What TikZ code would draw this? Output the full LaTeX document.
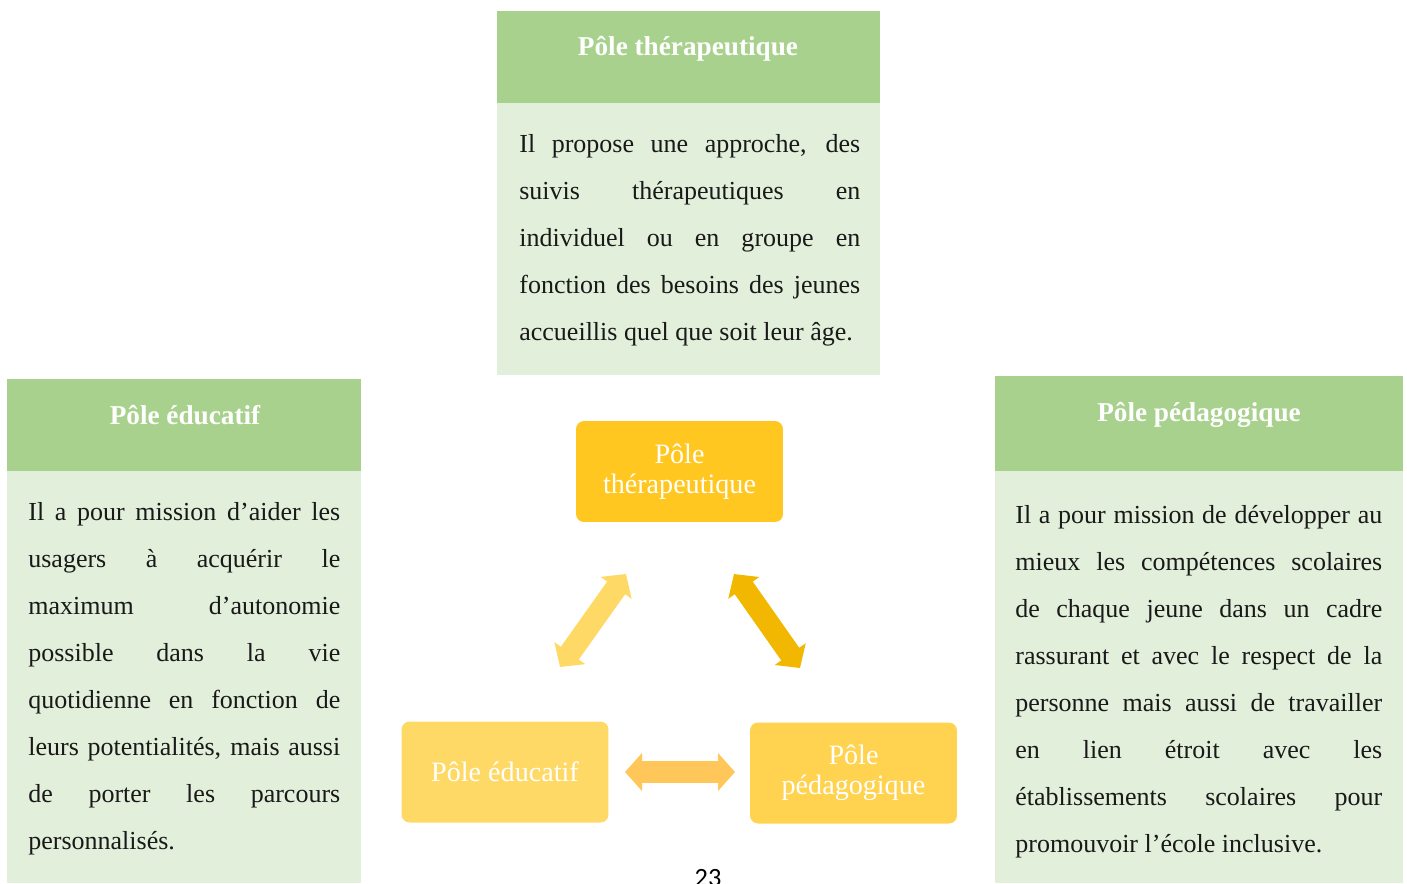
\documentclass[tikz,border=0pt]{standalone}
\usepackage{fontspec}
\setmainfont{Liberation Serif}
\newfontfamily\pagefont{Carlito}
\usepackage{xcolor}
\usetikzlibrary{arrows.meta}

\hyphenpenalty=10000
\exhyphenpenalty=10000
\setlength{\parindent}{0pt}

\definecolor{headgreen}{HTML}{A9D18E}
\definecolor{bodygreen}{HTML}{E2EFDA}
\definecolor{poleT}{HTML}{FFC71F}
\definecolor{poleE}{HTML}{FFD966}
\definecolor{poleP}{HTML}{FFD34F}
\definecolor{arrowL}{HTML}{FFD966}
\definecolor{arrowR}{HTML}{F2B700}
\definecolor{arrowH}{HTML}{FFC65A}

\begin{document}
\begin{tikzpicture}[x=0.02cm, y=-0.02cm,
    title/.style={text=white, font=\fontsize{15.5}{18}\selectfont\bfseries},
    body/.style={anchor=north west, inner sep=0pt, align=justify, text=black!90,
        font=\fontsize{14.8}{26.75}\selectfont},
    pole/.style={rounded corners=0.16cm, minimum width=4.14cm, minimum height=2.02cm,
        text=white, align=center, font=\fontsize{16}{17}\selectfont},
    dbl/.style={line width=0.44cm,
        {Triangle[width=0.74cm,length=0.34cm]}-{Triangle[width=0.74cm,length=0.34cm]}}]

    \useasboundingbox (0,0) rectangle (1407,883);

    % panels
    \fill[headgreen] (497,11) rectangle (880,103);
    \fill[bodygreen] (497,103) rectangle (880,375);
    \fill[headgreen] (7,379) rectangle (361,471);
    \fill[bodygreen] (7,471) rectangle (361,883);
    \fill[headgreen] (995,376) rectangle (1403,471);
    \fill[bodygreen] (995,471) rectangle (1403,883);

    \node[title] (tthera) at (688,49) {Pôle thérapeutique};
    \node[title] (tedu) at (185,415) {Pôle éducatif};
    \node[title] (tpeda) at (1199,415) {Pôle pédagogique};

    \node[body, text width=6.82cm] (xthera) at (519,134) {Il propose une approche, des\linebreak
        suivis thérapeutiques en\linebreak
        individuel ou en groupe en\linebreak
        fonction des besoins des jeunes\linebreak
        accueillis quel que soit leur âge.};
    \node[body, text width=6.24cm] (xedu) at (28,502) {Il a pour mission d’aider les\linebreak
        usagers à acquérir le\linebreak
        maximum d’autonomie\linebreak
        possible dans la vie\linebreak
        quotidienne en fonction de\linebreak
        leurs potentialités, mais aussi\linebreak
        de porter les parcours\linebreak
        personnalisés.};
    \node[body, text width=7.34cm] (xpeda) at (1015,505) {Il a pour mission de développer au\linebreak
        mieux les compétences scolaires\linebreak
        de chaque jeune dans un cadre\linebreak
        rassurant et avec le respect de la\linebreak
        personne mais aussi de travailler\linebreak
        en lien étroit avec les\linebreak
        établissements scolaires pour\linebreak
        promouvoir l’école inclusive.};

    % the three poles
    \node[pole, fill=poleT] (thera) at (679.5,471.5) {Pôle\\thérapeutique};
    \node[pole, fill=poleE] (edu) at (505,772) {Pôle éducatif};
    \node[pole, fill=poleP] (peda) at (853.5,773) {Pôle\\pédagogique};

    \coordinate (l1) at (560,667);
    \coordinate (l2) at (626,574);
    \coordinate (r1) at (734,574);
    \coordinate (r2) at (800,668);
    \coordinate (h1) at (625,772);
    \coordinate (h2) at (735,772);

    \draw[dbl, arrowL] (l1) -- (l2);
    \draw[dbl, arrowR] (r1) -- (r2);
    \draw[dbl, arrowH] (h1) -- (h2);

    \node[font=\pagefont\fontsize{15}{18}\selectfont] (page) at (708,878) {23};

\end{tikzpicture}
\end{document}
